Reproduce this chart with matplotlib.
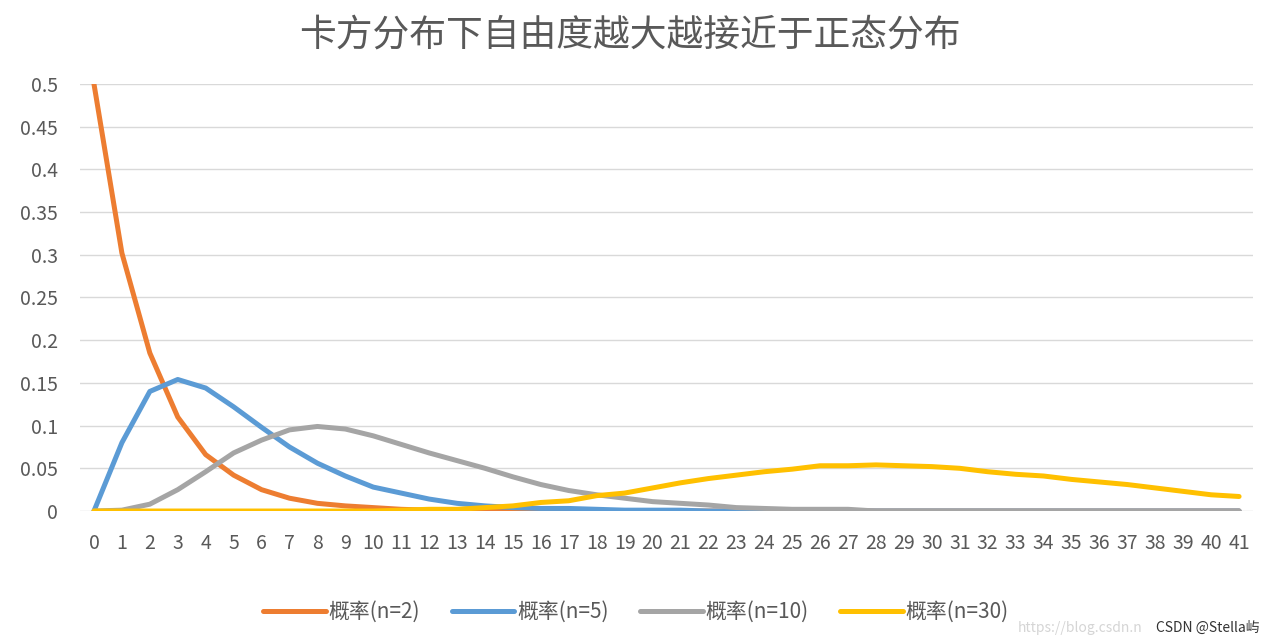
import matplotlib.pyplot as plt

plt.rcParams['font.family'] = ['Noto Sans CJK SC', 'DejaVu Sans']

x = list(range(42))

# values
p_n2 = [0.5, 0.302, 0.185, 0.110, 0.066, 0.042, 0.025, 0.015, 0.009, 0.006,
        0.004, 0.002, 0.001, 0.001, 0.0, 0.0, 0.0, 0.0, 0.0, 0.0,
        0.0, 0.0, 0.0, 0.0, 0.0, 0.0, 0.0, 0.0, 0.0, 0.0,
        0.0, 0.0, 0.0, 0.0, 0.0, 0.0, 0.0, 0.0, 0.0, 0.0,
        0.0, 0.0]
p_n5 = [0.0, 0.080, 0.140, 0.154, 0.144, 0.122, 0.098, 0.075, 0.056, 0.041,
        0.028, 0.021, 0.014, 0.009, 0.006, 0.004, 0.003, 0.003, 0.002, 0.001,
        0.001, 0.001, 0.0, 0.0, 0.0, 0.0, 0.0, 0.0, 0.0, 0.0,
        0.0, 0.0, 0.0, 0.0, 0.0, 0.0, 0.0, 0.0, 0.0, 0.0,
        0.0, 0.0]
p_n10 = [0.0, 0.001, 0.008, 0.025, 0.046, 0.068, 0.083, 0.095, 0.099, 0.096,
         0.088, 0.078, 0.068, 0.059, 0.050, 0.040, 0.031, 0.024, 0.019, 0.015,
         0.011, 0.009, 0.007, 0.004, 0.003, 0.002, 0.002, 0.002, 0.0, 0.0,
         0.0, 0.0, 0.0, 0.0, 0.0, 0.0, 0.0, 0.0, 0.0, 0.0,
         0.0, 0.0]
p_n30 = [0.0, 0.0, 0.0, 0.0, 0.0, 0.0, 0.0, 0.0, 0.0, 0.0,
         0.0, 0.001, 0.002, 0.002, 0.004, 0.006, 0.010, 0.012, 0.018, 0.021,
         0.027, 0.033, 0.038, 0.042, 0.046, 0.049, 0.053, 0.053, 0.054, 0.053,
         0.052, 0.050, 0.046, 0.043, 0.041, 0.037, 0.034, 0.031, 0.027, 0.023,
         0.019, 0.017]

series = [("概率(n=2)", p_n2, "#ED7D31"),
          ("概率(n=5)", p_n5, "#5B9BD5"),
          ("概率(n=10)", p_n10, "#A5A5A5"),
          ("概率(n=30)", p_n30, "#FFC000")]

txt = "#595959"

fig = plt.figure(figsize=(12.72, 6.44), dpi=100)
ax = fig.add_axes([0.0629, 0.2065, 0.9222, 0.6631])

for label, vals, color in series:
    ax.plot(x, vals, color=color, linewidth=3.6, label=label,
            solid_capstyle='round', solid_joinstyle='round')

ax.set_xlim(-0.5, 41.5)
ax.set_ylim(0, 0.5)
ax.set_xticks(x)
ax.set_xticklabels([str(v) for v in x])
yt = [0, 0.05, 0.1, 0.15, 0.2, 0.25, 0.3, 0.35, 0.4, 0.45, 0.5]
ax.set_yticks(yt)
ax.set_yticklabels(["0", "0.05", "0.1", "0.15", "0.2", "0.25", "0.3", "0.35", "0.4", "0.45", "0.5"])
ax.grid(axis='y', color="#D9D9D9", linewidth=1.0)
ax.set_axisbelow(True)
for s in ax.spines.values():
    s.set_visible(False)
ax.tick_params(axis='x', length=0, pad=16, labelsize=14, colors=txt)
ax.tick_params(axis='y', length=0, pad=16, labelsize=14, colors=txt)

fig.text(0.495, 0.945, "卡方分布下自由度越大越接近于正态分布", ha='center', va='center',
         fontsize=26.5, color=txt)

fig.legend(loc='center', bbox_to_anchor=(0.5, 0.05), ncol=4, frameon=False,
           fontsize=15, handlelength=3, handletextpad=0.15, columnspacing=1.5,
           labelcolor=txt)

# watermark
fig.text(0.80, 0.025, "https://blog.csdn.n", fontsize=10,
         color="#D5D5D5", ha='left', va='center')
fig.text(0.99, 0.025, "CSDN @Stella屿", fontsize=10, color="#333333",
         ha='right', va='center')

plt.savefig("out.png", dpi=100)
plt.close()
